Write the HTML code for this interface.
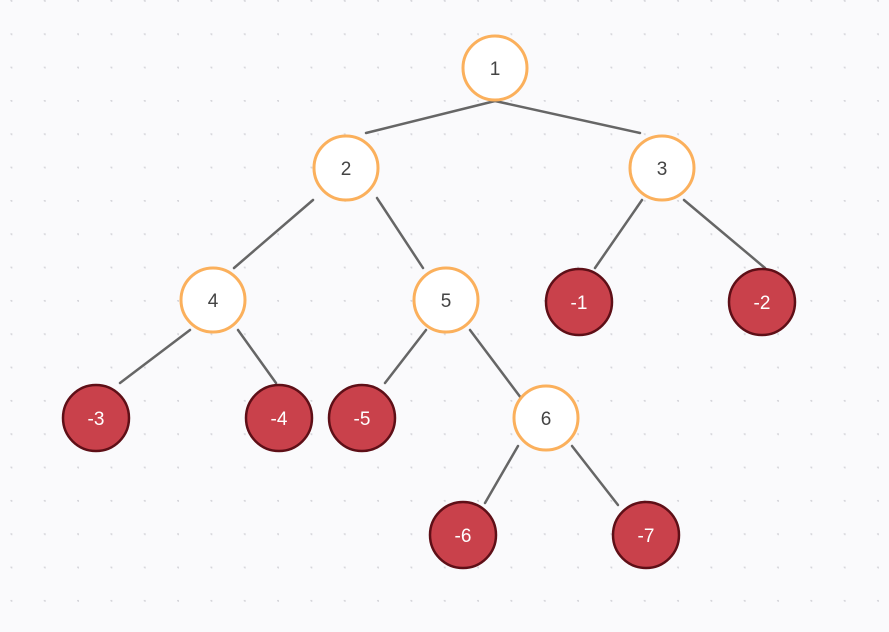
<!DOCTYPE html>
<html><head><style>body{margin:0;background:#fafafc;}svg{display:block}</style></head><body>
<svg width="889" height="632" xmlns="http://www.w3.org/2000/svg">
<defs><pattern id="d" width="33.33" height="33.33" patternUnits="userSpaceOnUse" x="-21" y="0"><circle cx="33.33" cy="0" r="2" fill="#d6d6db"/></pattern></defs>
<rect width="889" height="632" fill="#fafafc"/>
<rect width="889" height="632" fill="url(#d)"/>
<g stroke="#666" stroke-width="2.5" stroke-linecap="round">
<line x1="495" y1="101" x2="366" y2="133"/><line x1="495" y1="101" x2="640" y2="133"/>
<line x1="313" y1="200" x2="234" y2="268"/><line x1="377" y1="198" x2="423" y2="268"/>
<line x1="642" y1="200" x2="595" y2="268"/><line x1="684" y1="200" x2="765" y2="268"/>
<line x1="190" y1="330" x2="120" y2="383"/><line x1="238" y1="330" x2="276" y2="383"/>
<line x1="426" y1="330" x2="385" y2="383"/><line x1="470" y1="330" x2="521" y2="398"/>
<line x1="518" y1="446" x2="485" y2="503"/><line x1="572" y1="446" x2="618" y2="505"/>
</g>
<g fill="#fff" stroke="#fbb05c" stroke-width="3">
<circle cx="495" cy="68" r="32"/><circle cx="346" cy="168" r="32"/><circle cx="662" cy="168" r="32"/>
<circle cx="213" cy="300" r="32"/><circle cx="446" cy="300" r="32"/><circle cx="546" cy="418" r="32"/>
</g>
<g fill="#c9414b" stroke="#5e0f17" stroke-width="2.5">
<circle cx="579" cy="302" r="33"/><circle cx="762" cy="302" r="33"/><circle cx="96" cy="418" r="33"/>
<circle cx="279" cy="418" r="33"/><circle cx="362" cy="418" r="33"/><circle cx="463" cy="535" r="33"/><circle cx="646" cy="535" r="33"/>
</g>
<g font-family="Liberation Sans, sans-serif" font-size="19" text-anchor="middle" fill="#444">
<text x="495" y="75">1</text><text x="346" y="175">2</text><text x="662" y="175">3</text>
<text x="213" y="307">4</text><text x="446" y="307">5</text><text x="546" y="425">6</text>
</g>
<g font-family="Liberation Sans, sans-serif" font-size="19" text-anchor="middle" fill="#fff">
<text x="579" y="309">-1</text><text x="762" y="309">-2</text><text x="96" y="425">-3</text>
<text x="279" y="425">-4</text><text x="362" y="425">-5</text><text x="463" y="542">-6</text><text x="646" y="542">-7</text>
</g>
</svg>
</body></html>
